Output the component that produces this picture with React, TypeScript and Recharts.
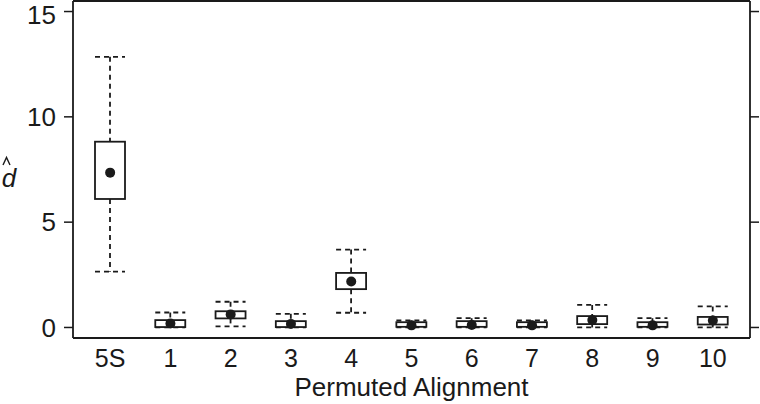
import React from "react";
import {
  Bar,
  ComposedChart,
  Label,
  Scatter,
  XAxis,
  YAxis,
} from "recharts";

const categories = ["5S", "1", "2", "3", "4", "5", "6", "7", "8", "9", "10"];
const whiskerLow = [2.65, 0, 0.05, 0, 0.7, 0, 0, 0, 0, 0, 0];
const q1 = [6.1, 0.02, 0.43, 0.02, 1.82, 0.03, 0.03, 0.03, 0.16, 0.03, 0.14];
const median = [7.35, 0.19, 0.62, 0.17, 2.18, 0.1, 0.12, 0.1, 0.35, 0.1, 0.33];
const q3 = [8.82, 0.35, 0.77, 0.3, 2.59, 0.25, 0.3, 0.25, 0.54, 0.25, 0.5];
const whiskerHigh = [12.85, 0.71, 1.22, 0.65, 3.7, 0.33, 0.44, 0.33, 1.07, 0.44, 1.0];
const yTicks = [0, 5, 10, 15];

const rows = categories.map((name, i) => ({
  name,
  lo: whiskerLow[i],
  q1: q1[i],
  median: median[i],
  q3: q3[i],
  hi: whiskerHigh[i],
}));

const INK = "#1a1a1a";
const FONT = "'Liberation Sans', Arial, sans-serif";

function BoxShape(props: any) {
  const { x, y, width, height, payload } = props;
  if (x == null || y == null) return null;
  const { lo, hi } = payload;
  // map a value to pixels using the bar's own min/max extent
  const py = (v: number) => y + height - ((v - lo) / (hi - lo)) * height;
  const cx = x + width / 2;
  const dash = "5 4";
  const sw = 1.8;
  return (
    <g>
      <line x1={cx} x2={cx} y1={py(hi)} y2={py(payload.q3)} stroke={INK} strokeWidth={sw} strokeDasharray={dash} />
      <line x1={cx} x2={cx} y1={py(payload.q1)} y2={py(lo)} stroke={INK} strokeWidth={sw} strokeDasharray={dash} />
      <line x1={x} x2={x + width} y1={py(hi)} y2={py(hi)} stroke={INK} strokeWidth={sw} strokeDasharray={dash} />
      <line x1={x} x2={x + width} y1={py(lo)} y2={py(lo)} stroke={INK} strokeWidth={sw} strokeDasharray={dash} />
      <rect
        x={x}
        y={py(payload.q3)}
        width={width}
        height={Math.max(py(payload.q1) - py(payload.q3), 0)}
        fill="#fff"
        stroke={INK}
        strokeWidth={sw}
      />
    </g>
  );
}

function Dot(props: any) {
  const { cx, cy } = props;
  if (cx == null || cy == null) return null;
  return <circle cx={cx} cy={cy} r={5} fill={INK} />;
}

function DHat() {
  return (
    <g fontFamily={FONT} fill={INK}>
      <polyline points="3,165 6.5,157.5 10,165" fill="none" stroke={INK} strokeWidth={1.4} />
      <text x={9} y={187} fontSize={26} fontStyle="italic" textAnchor="middle">d</text>
    </g>
  );
}

export default function App() {
  return (
    <div style={{ position: "absolute", left: 0, top: 0, background: "#fff" }}>
      <ComposedChart
        width={760}
        height={404}
        data={rows}
        margin={{ top: 0, right: 0, bottom: 0, left: 0 }}
        style={{ fontFamily: FONT }}
      >
        <XAxis
          dataKey="name"
          type="category"
          padding={{ left: 7, right: 7 }}
          height={66}
          axisLine={{ stroke: INK, strokeWidth: 1.8 }}
          tickLine={false}
          tickSize={0}
          tickMargin={11}
          tick={{ fontSize: 25, fill: INK }}
          interval={0}
        >
          <Label
            value="Permuted Alignment"
            position="insideBottom"
            offset={8}
            style={{ fontSize: 26, fill: INK, fontFamily: FONT }}
          />
        </XAxis>
        <XAxis
          xAxisId="top"
          dataKey="name"
          orientation="top"
          height={1}
          axisLine={{ stroke: INK, strokeWidth: 1.8 }}
          tickLine={false}
          tick={false}
        />
        <YAxis
          yAxisId="left"
          type="number"
          domain={[-0.5, 15.5]}
          allowDataOverflow
          ticks={yTicks}
          width={73}
          axisLine={{ stroke: INK, strokeWidth: 1.8 }}
          tickLine={{ stroke: INK, strokeWidth: 1.5 }}
          tickSize={9}
          tickMargin={8}
          tick={{ fontSize: 26, fill: INK }}
          label={<DHat />}
        />
        <YAxis
          yAxisId="right"
          orientation="right"
          type="number"
          domain={[-0.5, 15.5]}
          allowDataOverflow
          ticks={yTicks}
          width={10}
          axisLine={{ stroke: INK, strokeWidth: 1.8 }}
          tickLine={{ stroke: INK, strokeWidth: 1.5 }}
          tickSize={9}
          tickFormatter={() => ""}
        />
        <Bar
          yAxisId="left"
          dataKey={(d: any) => [d.lo, d.hi]}
          barSize={30}
          shape={<BoxShape />}
          isAnimationActive={false}
        />
        <Scatter
          yAxisId="left"
          dataKey="median"
          shape={<Dot />}
          isAnimationActive={false}
        />
      </ComposedChart>
    </div>
  );
}
